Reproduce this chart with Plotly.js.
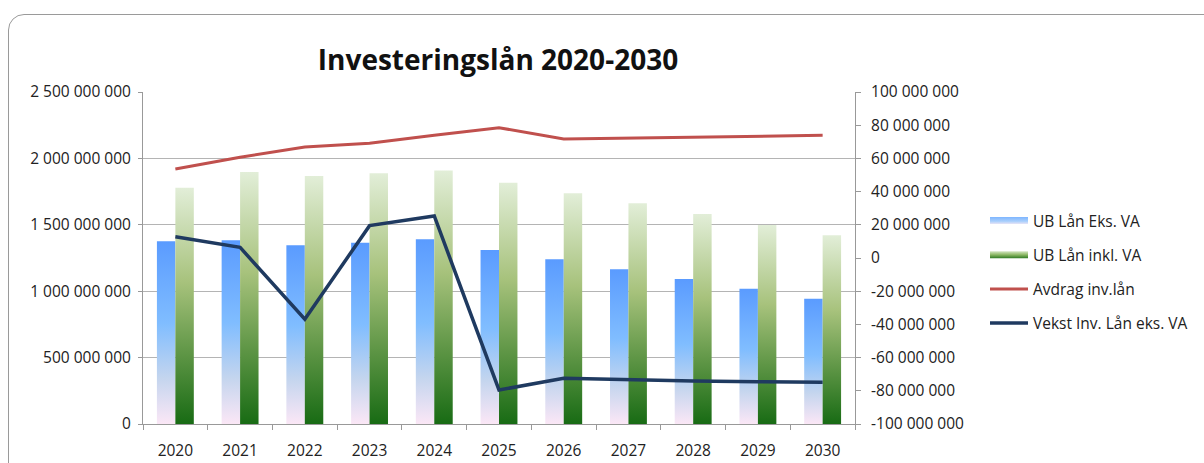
<!DOCTYPE html>
<html>
<head>
<meta charset="utf-8">
<script src="https://cdn.plot.ly/plotly-3.0.1.min.js"></script>
<style>
html,body{margin:0;padding:0;background:#fff;overflow:hidden;}
#wrap{position:relative;width:1204px;height:463px;}
#chart{position:absolute;left:0;top:0;width:1204px;height:463px;}
#frame{position:absolute;left:8px;top:14px;width:1220px;height:480px;border:1.5px solid #9a9a9a;border-radius:16px;pointer-events:none;}
</style>
</head>
<body>
<div id="wrap"><div id="chart"></div><div id="frame"></div></div>
<script>
const years = ['2020','2021','2022','2023','2024','2025','2026','2027','2028','2029','2030'];
const ubEksVA  = [1376e6,1383e6,1346e6,1365e6,1391e6,1310e6,1240e6,1165e6,1092e6,1019e6,944e6];
const ubInklVA = [1779e6,1898e6,1867e6,1888e6,1908e6,1817e6,1737e6,1662e6,1581e6,1498e6,1421e6];
const avdrag   = [53.6e6,60.7e6,66.9e6,69.1e6,73.9e6,78.5e6,71.7e6,72.3e6,72.9e6,73.5e6,73.9e6];
const vekst    = [12.8e6,6.4e6,-36.9e6,19.5e6,25.3e6,-79.5e6,-72.5e6,-73.5e6,-74.1e6,-74.5e6,-74.9e6];
const leftTickVals = [0,500e6,1000e6,1500e6,2000e6,2500e6];
const leftTickText = ['0','500 000 000','1 000 000 000','1 500 000 000','2 000 000 000','2 500 000 000'];
const rightTickVals = [-100e6,-80e6,-60e6,-40e6,-20e6,0,20e6,40e6,60e6,80e6,100e6];
const rightTickText = ['-100 000 000','-80 000 000','-60 000 000','-40 000 000','-20 000 000','0','20 000 000','40 000 000','60 000 000','80 000 000','100 000 000'];

const FONT = '"Open Sans", sans-serif';
const FS = 15.5;

const traces = [
  {type:'bar', name:'UB Lån Eks. VA', legendgroup:'a', x:years, y:ubEksVA, marker:{color:'#7db6ff', line:{width:0}}, yaxis:'y'},
  {type:'bar', name:'UB Lån inkl. VA', legendgroup:'b', x:years, y:ubInklVA, marker:{color:'#6e9a4e', line:{width:0}}, yaxis:'y'},
  {type:'scatter', mode:'lines', name:'Avdrag inv.lån', legendgroup:'c', x:years, y:avdrag, line:{color:'#c0504d', width:3}, yaxis:'y2'},
  {type:'scatter', mode:'lines', name:'Vekst Inv. Lån eks. VA', legendgroup:'d', x:years, y:vekst, line:{color:'#1f3a60', width:3.5}, yaxis:'y2'}
];

const layout = {
  width:1204, height:463,
  margin:{l:143, r:349, t:92, b:39, autoexpand:false},
  paper_bgcolor:'rgba(0,0,0,0)', plot_bgcolor:'#fff',
  font:{family:FONT, size:FS, color:'#333'},
  title:{text:'<b>Investeringslån 2020-2030</b>', x:498/1204, xanchor:'center', y:1-60/463, yanchor:'middle', font:{family:FONT, size:28, color:'#111'}},
  barmode:'group', bargap:0.43, bargroupgap:0,
  showlegend:true,
  legend:{xref:'container', yref:'container', x:983/1204, xanchor:'left', y:1-272/463, yanchor:'middle', font:{family:FONT, size:FS, color:'#222'}, itemwidth:40, tracegroupgap:11, bgcolor:'rgba(0,0,0,0)', traceorder:'grouped'},
  xaxis:{type:'category', tickson:'boundaries', ticks:'outside', ticklen:5, tickcolor:'#999', showline:true, linecolor:'#999', linewidth:1, showgrid:false, tickfont:{size:FS, color:'#222'}, ticklabelstandoff:12, fixedrange:true},
  yaxis:{range:[0,2500e6], tickvals:leftTickVals, ticktext:leftTickText, showgrid:true, gridcolor:'#b4b4b4', gridwidth:1.2, showline:true, linecolor:'#999', ticks:'outside', ticklen:4, tickcolor:'#999', zeroline:false, tickfont:{size:FS, color:'#222'}, ticklabelstandoff:4, fixedrange:true},
  yaxis2:{overlaying:'y', side:'right', range:[-100e6,100e6], tickvals:rightTickVals, ticktext:rightTickText, showgrid:false, showline:true, linecolor:'#999', ticks:'outside', ticklen:5, tickcolor:'#999', zeroline:false, tickfont:{size:FS, color:'#222'}, ticklabelstandoff:7, fixedrange:true}
};

function addGradients(gd){
  const svg = gd.querySelector('svg.main-svg');
  const ns = 'http://www.w3.org/2000/svg';
  let defs = svg.querySelector('defs');
  if(!defs){defs=document.createElementNS(ns,'defs');svg.insertBefore(defs,svg.firstChild);}
  function grad(id, stops){
    if(svg.querySelector('#'+id)) return;
    const g=document.createElementNS(ns,'linearGradient');
    g.setAttribute('id',id);
    g.setAttribute('x1','0');g.setAttribute('y1','0');
    g.setAttribute('x2','0');g.setAttribute('y2','1');
    stops.forEach(s=>{const st=document.createElementNS(ns,'stop');st.setAttribute('offset',s[0]);st.setAttribute('stop-color',s[1]);g.appendChild(st);});
    defs.appendChild(g);
  }
  grad('gBlue',[[0,'#5a9bff'],[0.45,'#80bdff'],[0.75,'#c4d5ee'],[1,'#fbe7f6']]);
  grad('gGreen',[[0,'#e2eed8'],[0.4,'#a7c27c'],[0.7,'#5f9646'],[1,'#186b14']]);
  grad('gBlueH',[[0,'#7fb6ff'],[0.6,'#a9cffc'],[1,'#e9e4f6']]);
  grad('gGreenH',[[0,'#d4e6c4'],[0.5,'#8db865'],[1,'#2f7a23']]);
  gd.querySelectorAll('.barlayer .trace').forEach((t,i)=>{
    t.querySelectorAll('path').forEach(p=>{p.style.fill='url(#'+(i===0?'gBlue':'gGreen')+')';});
  });
  const items = gd.querySelectorAll('.legend .traces');
  let refLeft = null;
  items.forEach((t,i)=>{
    if(i>=2){
      t.querySelectorAll('.legendlines path').forEach(lp=>{
        lp.setAttribute('d','M7,0h38');
        const r = lp.getBoundingClientRect();
        if(refLeft===null) refLeft = r.left;
      });
    }
  });
  items.forEach((t,i)=>{
    if(i<2){
      t.querySelectorAll('.legendpoints path').forEach(bp=>{
        bp.removeAttribute('transform');
        bp.setAttribute('d','M0,3.5H38V-3.5H0Z');
        bp.style.fill='url(#'+(i===0?'gBlueH':'gGreenH')+')';
        bp.style.stroke='none';
        if(refLeft!==null){
          const r = bp.getBoundingClientRect();
          bp.setAttribute('transform','translate('+(refLeft - r.left)+',0)');
        }
      });
    }
  });
}

Plotly.newPlot('chart', traces, layout, {staticPlot:true, displayModeBar:false}).then(gd=>{
  addGradients(gd);
  gd.on && gd.on('plotly_afterplot', ()=>addGradients(gd));
});
</script>
</body>
</html>
